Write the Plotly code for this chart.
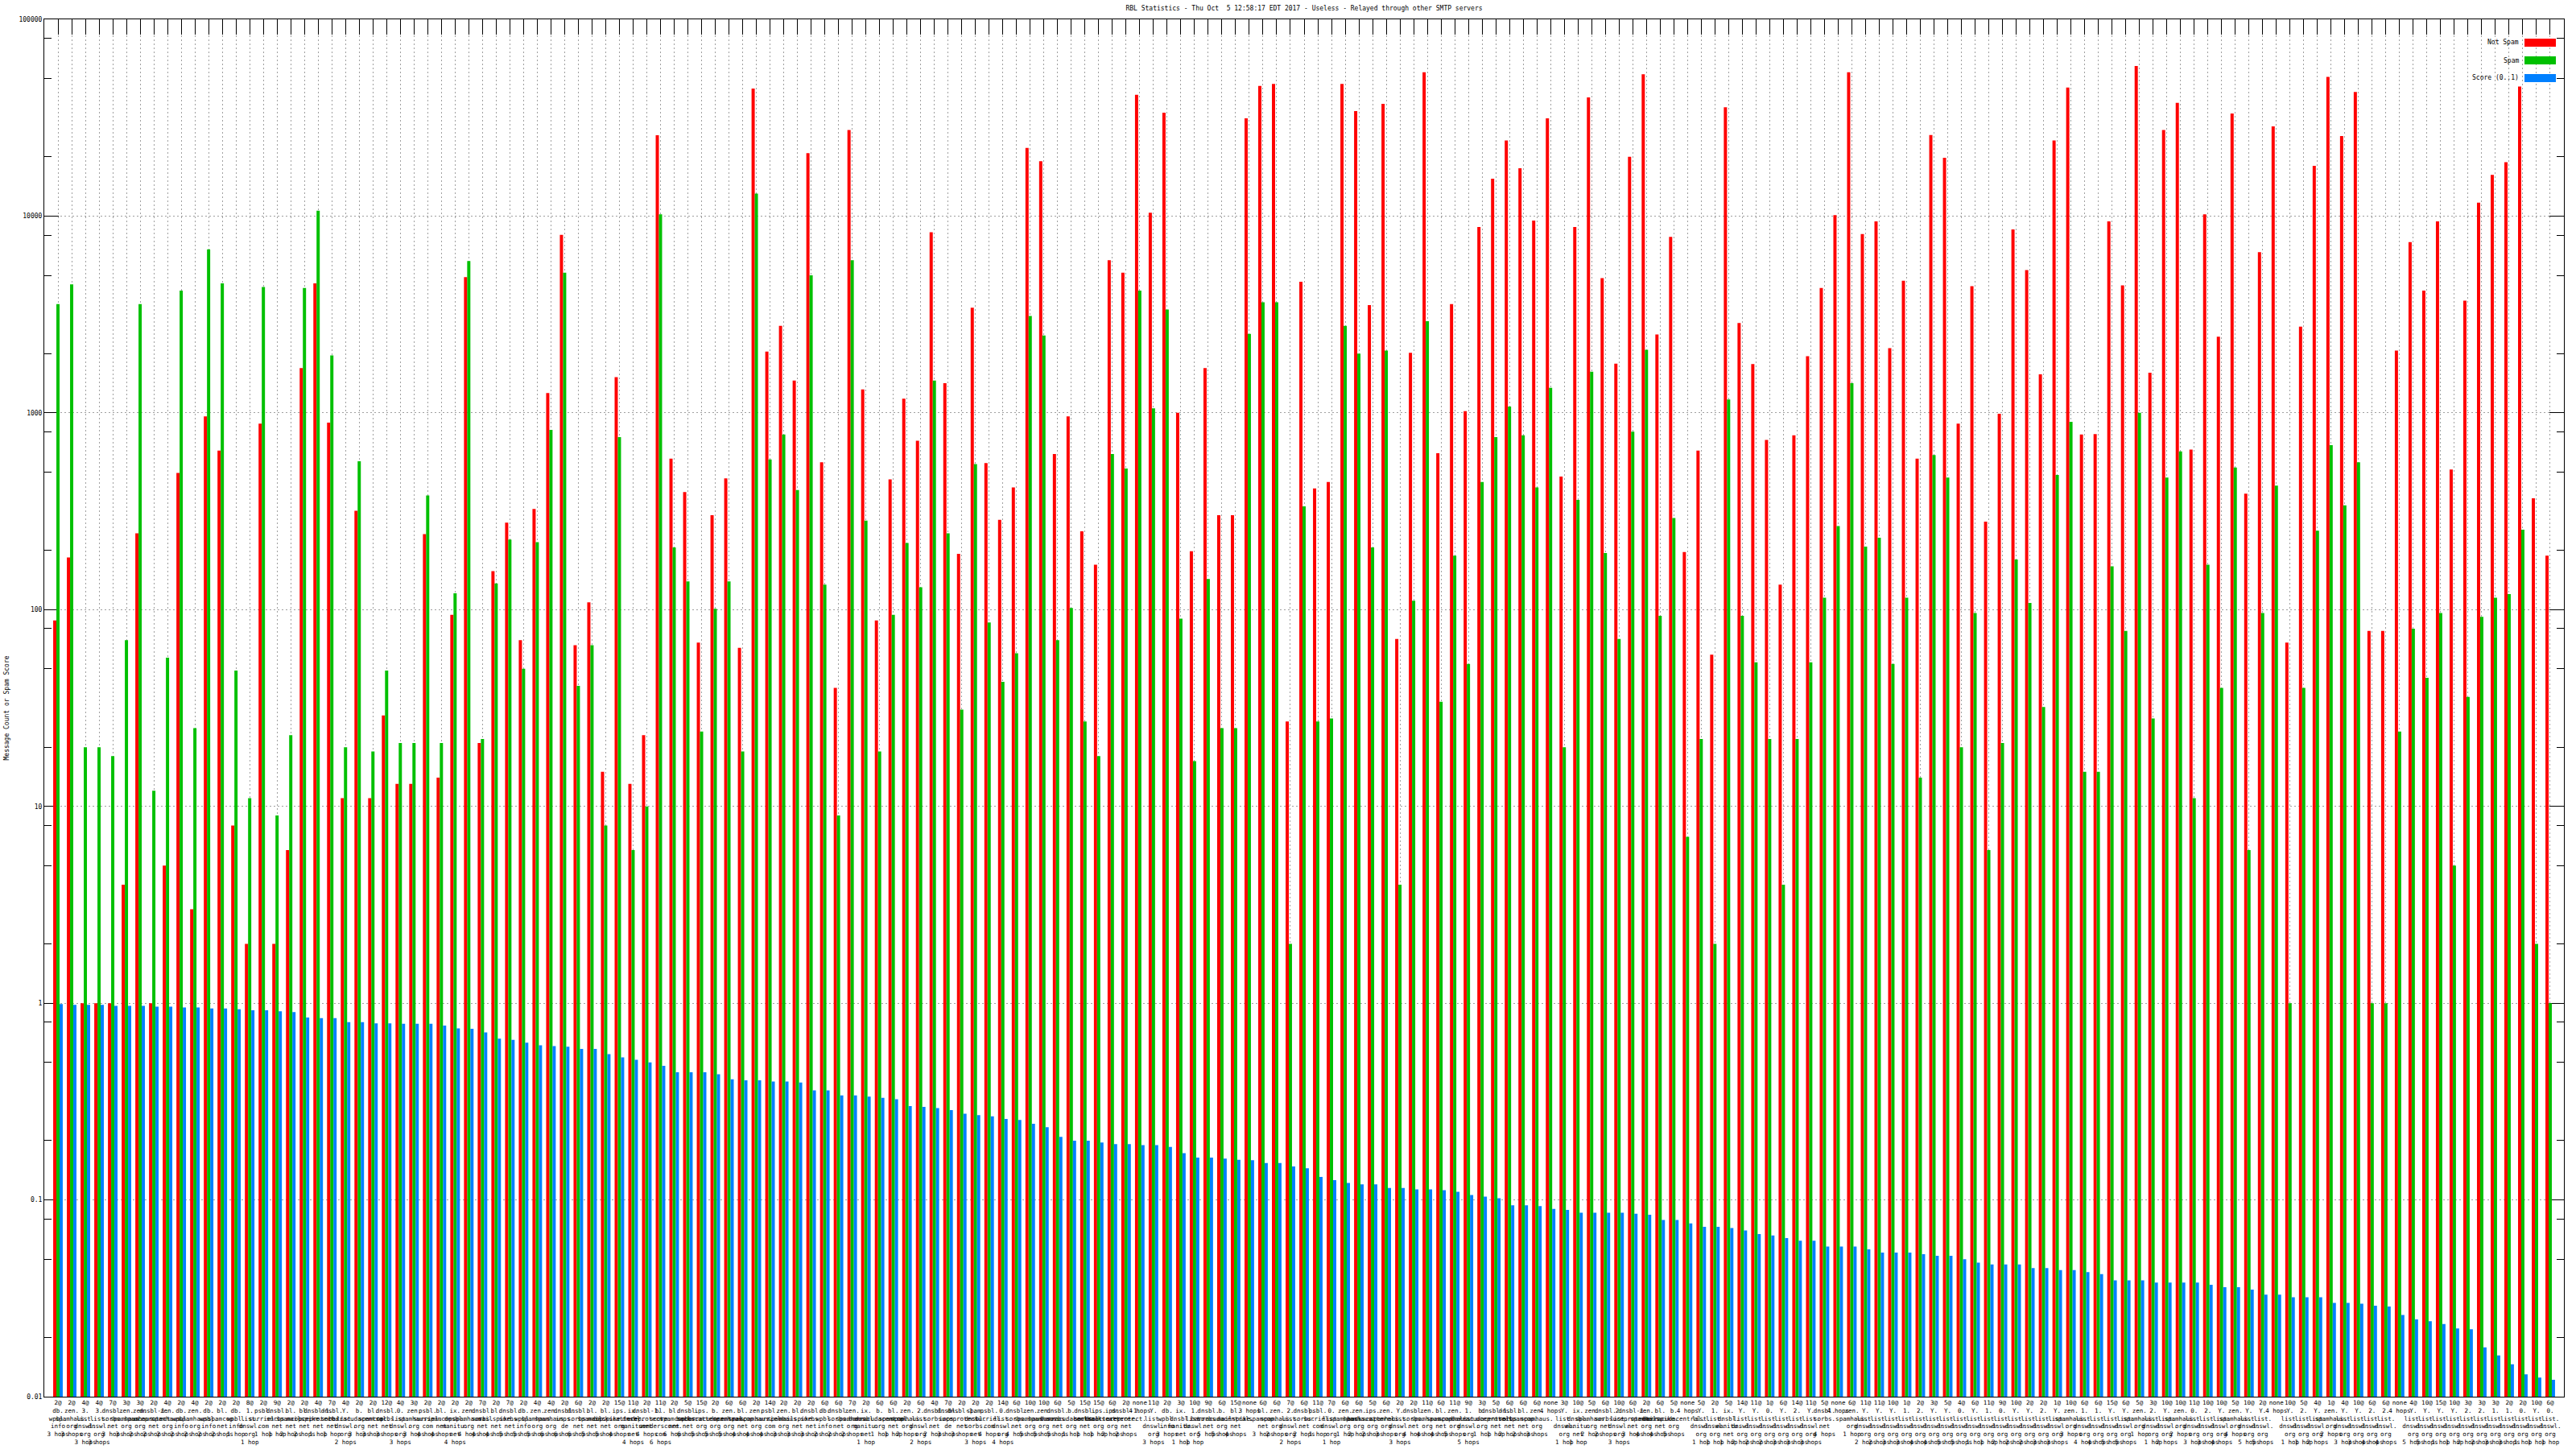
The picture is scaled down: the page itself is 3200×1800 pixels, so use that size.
import plotly.graph_objects as go

# ---------------- data ----------------
prefixes = [
    "2@", "2@", "4@", "4@", "7@", "3@", "3@", "2@", "4@", "2@",
    "4@", "2@", "2@", "2@", "8@", "2@", "9@", "2@", "2@", "4@",
    "7@", "4@", "2@", "2@", "12@", "4@", "3@", "2@", "2@", "2@",
    "2@", "7@", "2@", "7@", "2@", "4@", "4@",
    "2@", "6@", "2@", "2@", "15@", "11@", "2@", "11@", "2@", "5@",
    "15@", "2@", "6@", "6@", "2@", "14@", "2@", "2@", "2@", "6@",
    "6@", "7@", "2@", "6@", "6@", "2@", "6@", "4@", "7@", "2@",
    "2@", "2@", "14@", "6@", "10@", "10@", "6@",
    "5@", "15@", "15@", "6@", "2@", "none", "11@", "2@", "3@", "10@",
    "9@", "6@", "15@", "none", "6@", "6@", "7@", "6@", "11@", "7@",
    "6@", "6@", "5@", "6@", "2@", "2@", "11@", "6@", "11@", "9@",
    "3@", "5@", "6@", "6@", "6@", "none", "3@",
    "10@", "5@", "6@", "10@", "6@", "2@", "6@", "5@", "none", "5@",
    "2@", "5@", "14@", "11@", "1@", "6@", "14@", "11@", "5@", "none",
    "6@", "11@", "11@", "10@", "1@", "2@", "3@", "5@", "4@", "6@",
    "11@", "9@", "10@", "2@", "2@", "1@", "10@",
    "6@", "6@", "15@", "6@", "5@", "3@", "10@", "10@", "11@", "10@",
    "10@", "5@", "10@", "2@", "none", "10@", "5@", "4@", "1@", "4@",
    "10@", "6@", "6@", "none", "4@", "10@", "15@", "10@", "3@", "3@",
    "3@", "2@", "2@", "10@", "6@",
]

zone_names = {
    "Z": "zen.spamhaus.org", "W": "db.wpbl.info", "S": "dnsbl.sorbs.net",
    "C": "bl.spamcop.net", "P": "psbl.surriel.com", "M": "bl.mailspike.net",
    "U": "dnsbl-1.uceprotect.net", "B": "b.barracudacentral.org",
    "X": "ix.dnsbl.manitu.net", "K": "ips.backscatterer.org",
    "N": "spam.dnsbl.sorbs.net", "I": "dnsbl.inps.de",
    "R": "bl.score.senderscore.com", "L0": "0.list.dnswl.org",
    "L1": "1.list.dnswl.org", "L2": "2.list.dnswl.org",
    "L3": "3.list.dnswl.org", "LY": "Y.list.dnswl.org", "-": "",
}

zone_codes = [
    "W", "Z", "L3", "L3", "S", "Z", "Z", "U", "Z", "W",
    "Z", "W", "C", "W", "L1", "P", "S", "C", "M", "U",
    "S", "LY", "B", "C", "S", "L0", "Z", "P", "C", "X",
    "Z", "S", "M", "S", "W", "Z", "Z", "I", "S", "C",
    "M", "K", "X", "U", "R", "C", "S", "K", "B", "Z",
    "C", "Z", "P", "Z", "M", "S", "W", "S", "Z", "X",
    "B", "C", "Z", "L2", "S", "I", "U", "N", "P", "L0",
    "S", "Z", "Z", "S", "B", "S", "K", "K", "U", "-",
    "LY", "W", "X", "L1", "S", "B", "M", "-", "C", "Z",
    "L2", "S", "P", "L0", "Z", "Z", "K", "Z", "LY", "S",
    "Z", "C", "Z", "L1", "B", "U", "S", "C", "Z", "-",
    "LY", "X", "Z", "S", "L2", "U", "Z", "M", "B", "-",
    "LY", "L1", "X", "LY", "LY", "L0", "LY", "L2", "LY", "S",
    "-", "Z", "LY", "LY", "LY", "L1", "L2", "LY", "LY", "L0",
    "LY", "L1", "L0", "LY", "LY", "L2", "LY", "Z", "L1", "L1",
    "LY", "LY", "Z", "L2", "LY", "Z", "L0", "L2", "LY", "Z",
    "LY", "LY", "-", "LY", "L2", "LY", "Z", "LY", "LY", "L2",
    "L2", "-", "LY", "LY", "LY", "LY", "L2", "L2", "L1", "L1",
    "L0", "LY", "L0",
]

hops = [
    3, 3, 3, 3, 3, 3, 2, 2, 2, 2,
    2, 2, 2, 1, 1, 1, 1, 2, 2, 1,
    1, 2, 3, 3, 3, 3, 3, 4, 4, 4,
    4, 4, 4, 5, 5, 5, 6, 6, 6, 5,
    5, 4, 4, 4, 6, 6, 6, 5, 5, 5,
    4, 4, 4, 3, 3, 3, 2, 2, 2, 1,
    1, 1, 2, 2, 2, 3, 3, 3, 4, 4,
    4, 5, 5, 5, 1, 1, 1, 2, 2, 4,
    3, 3, 1, 1, 5, 5, 4, 3, 3, 2,
    2, 2, 1, 1, 1, 2, 2, 3, 3, 4,
    4, 4, 5, 5, 1, 1, 2, 2, 3, 4,
    1, 1, 2, 2, 3, 3, 4, 4, 5, 4,
    1, 1, 1, 2, 2, 2, 3, 3, 3, 4,
    4, 1, 2, 2, 3, 3, 4, 4, 5, 5,
    1, 1, 2, 2, 2, 3, 3, 3, 4, 4,
    5, 5, 1, 1, 2, 2, 3, 3, 4, 4,
    5, 5, 4, 1, 1, 2, 2, 3, 3, 4,
    4, 4, 5, 5, 1, 1, 2, 2, 3, 3,
    1, 1, 1,
]

not_spam = [
    88, 184, 1, 1, 1, 4, 244, 1, 5, 495,
    3, 959, 643, 8, 2, 881, 2, 6, 1690, 4550,
    891, 11, 318, 11, 29, 13, 13, 242, 14, 94,
    4890, 21, 157, 277, 70, 325, 1260,
    8020, 66, 109, 15, 1520, 13, 23, 25760, 585, 396,
    68, 302, 464, 64, 44500, 2050, 2770, 1460, 20900, 561,
    40, 27400, 1315, 88, 459, 1180, 722, 8280, 1415, 192,
    3420, 555, 286, 418, 22200, 19000, 617,
    959, 250, 169, 5970, 5160, 41300, 10400, 33500, 1000, 198,
    1690, 302, 302, 31400, 45900, 46900, 27, 4640, 413, 445,
    46900, 34200, 3530, 37200, 71, 2020, 53800, 623, 3570, 1020,
    8810, 15500, 24200, 17500, 9490, 31400, 474,
    8810, 40100, 4840, 1780, 20000, 52600, 2500, 7850, 196, 643,
    59, 35700, 2860, 1770, 729, 134, 769, 1940, 4310, 10100,
    53800, 8110, 9390, 2130, 4690, 585, 25800, 19800, 881, 4400,
    280, 989, 8550, 5320, 1570, 24200, 45000,
    777, 780, 9390, 4450, 57900, 1600, 27400, 37600, 650, 10200,
    2440, 33200, 388, 6560, 28600, 68, 2740, 18000, 51000, 25500,
    42700, 78, 78, 2070, 7380, 4180, 9390, 515, 3720, 11700,
    16200, 18800, 45500, 368, 188,
]

spam = [
    3570, 4500, 20, 20, 18, 70, 3570, 12, 57, 4180,
    25, 6780, 4550, 49, 11, 4360, 9, 23, 4310, 10650,
    1960, 20, 567, 19, 49, 21, 21, 380, 21, 121,
    5910, 22, 136, 227, 50, 220, 819,
    5160, 41, 66, 8, 753, 6, 10, 10200, 207, 139,
    24, 101, 139, 19, 13000, 579, 777, 405, 5000, 134,
    9, 5970, 283, 19, 94, 218, 130, 1460, 244, 31,
    549, 86, 43, 60, 3110, 2470, 70,
    102, 27, 18, 617, 521, 4180, 1055, 3350, 90, 17,
    143, 25, 25, 2520, 3650, 3650, 2, 335, 27, 28,
    2770, 2000, 207, 2070, 4, 111, 2920, 34, 188, 53,
    445, 753, 1076, 769, 418, 1340, 20,
    361, 1620, 194, 71, 802, 2090, 93, 292, 7, 22,
    2, 1170, 93, 54, 22, 4, 22, 54, 115, 266,
    1415, 209, 232, 53, 115, 14, 610, 469, 20, 96,
    6, 21, 180, 108, 32, 484, 900,
    15, 15, 166, 78, 1000, 28, 469, 637, 11, 169,
    40, 527, 6, 96, 427, 1, 40, 252, 685, 339,
    561, 1, 1, 24, 80, 45, 96, 5, 36, 92,
    115, 120, 255, 2, 1,
]

score = [
    0.99, 0.98, 0.98, 0.98, 0.97, 0.97, 0.97, 0.96, 0.96, 0.95,
    0.95, 0.94, 0.94, 0.93, 0.92, 0.92, 0.91, 0.90, 0.845, 0.84,
    0.84, 0.80, 0.80, 0.79, 0.79, 0.785, 0.785, 0.785, 0.77, 0.745,
    0.74, 0.71, 0.66, 0.65, 0.63, 0.61, 0.605,
    0.60, 0.585, 0.585, 0.55, 0.53, 0.515, 0.50, 0.48, 0.445, 0.445,
    0.445, 0.435, 0.41, 0.405, 0.405, 0.40, 0.40, 0.395, 0.36, 0.36,
    0.34, 0.34, 0.335, 0.33, 0.325, 0.30, 0.297, 0.293, 0.286, 0.274,
    0.27, 0.266, 0.258, 0.255, 0.244, 0.234, 0.209,
    0.20, 0.20, 0.196, 0.192, 0.192, 0.19, 0.19, 0.186, 0.173, 0.164,
    0.164, 0.162, 0.16, 0.159, 0.154, 0.154, 0.148, 0.145, 0.131, 0.126,
    0.122, 0.12, 0.12, 0.115, 0.115, 0.113, 0.113, 0.112, 0.11, 0.106,
    0.104, 0.102, 0.094, 0.094, 0.093, 0.09, 0.089,
    0.086, 0.086, 0.086, 0.086, 0.085, 0.084, 0.079, 0.079, 0.076, 0.073,
    0.073, 0.072, 0.07, 0.067, 0.066, 0.064, 0.062, 0.062, 0.058, 0.058,
    0.058, 0.056, 0.054, 0.054, 0.054, 0.053, 0.052, 0.052, 0.05, 0.048,
    0.047, 0.047, 0.047, 0.045, 0.045, 0.044, 0.044,
    0.043, 0.042, 0.039, 0.039, 0.039, 0.038, 0.038, 0.038, 0.038, 0.037,
    0.036, 0.036, 0.035, 0.033, 0.033, 0.032, 0.032, 0.032, 0.030, 0.030,
    0.0297, 0.029, 0.0287, 0.026, 0.0247, 0.0242, 0.0234, 0.0222, 0.022, 0.0178,
    0.0162, 0.0146, 0.013, 0.0125, 0.0122,
]

y_tick_vals = [0.01, 0.1, 1, 10, 100, 1000, 10000, 100000]
y_tick_text = ["0.01", "0.1", "1", "10", "100", "1000", "10000", "100000"]
y_minor_vals = [m * 10.0 ** k for k in range(-2, 5) for m in (2, 5, 8)]

title_text = "RBL Statistics - Thu Oct  5 12:58:17 EDT 2017 - Useless - Relayed through other SMTP servers"
series_names = ["Not Spam", "Spam", "Score (0..1)"]
series_colors = ["#FF0000", "#00C000", "#0080FF"]

n = len(not_spam)
assert len(spam) == n and len(score) == n and len(prefixes) == n
assert len(zone_codes) == n and len(hops) == n


def make_label(p, code, h):
    hop_txt = f"{h} hop" if h == 1 else f"{h} hops"
    zone = zone_names[code]
    if p == "none" or not zone:
        return "none<br>" + hop_txt
    parts = zone.split(".")
    lines = [s + "." for s in parts[:-1]] + [parts[-1]]
    return "<br>".join([p] + lines + [hop_txt])


labels = [make_label(p, z, h) for p, z, h in zip(prefixes, zone_codes, hops)]
xs = list(range(n))

# ---------------- figure ----------------
W, H = 3200, 1800
ML, MR, MT, MB = 55, 15, 24, 65
PW, PH = W - ML - MR, H - MT - MB
FONT = "DejaVu Sans Mono"


def px_x(px):
    return (px - ML) / PW


def px_y(py):
    return (H - MB - py) / PH


fig = go.Figure()
for name, vals, col in zip(series_names, [not_spam, spam, score], series_colors):
    fig.add_trace(go.Bar(x=xs, y=vals, name=name, marker=dict(color=col, line=dict(width=0)),
                         showlegend=False))

fig.update_layout(
    width=W, height=H,
    margin=dict(l=ML, r=MR, t=MT, b=MB, pad=0),
    paper_bgcolor="white", plot_bgcolor="white",
    barmode="group", bargap=0.3, bargroupgap=0.0,
    font=dict(family=FONT, size=8, color="black"),
    title=dict(text=title_text, x=0.5, xref="paper", xanchor="center",
               y=1 - 10 / H, yref="container", yanchor="middle",
               font=dict(family=FONT, size=8, color="black")),
)

fig.update_xaxes(
    range=[-1, n], tickmode="array", tickvals=xs, ticktext=labels, tickangle=0,
    tickfont=dict(family=FONT, size=7.5, color="black"),
    ticks="inside", ticklen=19, tickwidth=1, tickcolor="black",
    showline=True, linecolor="black", linewidth=1, mirror="ticks",
    showgrid=True, gridcolor="#A0A0A0", gridwidth=1, griddash="2px,3px",
    zeroline=False, layer="below traces", automargin=False,
)

fig.update_yaxes(
    type="log", range=[-2, 5], tickmode="array", tickvals=y_tick_vals, ticktext=y_tick_text,
    tickfont=dict(family=FONT, size=8, color="black"),
    ticks="inside", ticklen=18, tickwidth=1, tickcolor="black",
    showline=True, linecolor="black", linewidth=1, mirror="allticks",
    showgrid=True, gridcolor="#A0A0A0", gridwidth=1, griddash="2px,3px",
    minor=dict(tickmode="array", tickvals=y_minor_vals, ticks="inside", ticklen=9,
               tickcolor="black", tickwidth=1, showgrid=False),
    zeroline=False, layer="below traces", automargin=False,
)

# y axis label
fig.add_annotation(text="Message Count or Spam Score", textangle=-90,
                   xref="paper", yref="paper", x=px_x(8), y=px_y((MT + H - MB) / 2),
                   xanchor="center", yanchor="middle", showarrow=False,
                   font=dict(family=FONT, size=8, color="black"))

# legend (text to the left of a wide colour key, as in the reference)
legend_rows = [53, 75, 97]
for name, col, py in zip(series_names, series_colors, legend_rows):
    fig.add_annotation(text=name, xref="paper", yref="paper", x=px_x(3131), y=px_y(py),
                       xanchor="right", yanchor="middle", showarrow=False,
                       font=dict(family=FONT, size=8, color="black"))
    fig.add_shape(type="rect", xref="paper", yref="paper",
                  x0=px_x(3136), x1=px_x(3175), y0=px_y(py + 5), y1=px_y(py - 5),
                  fillcolor=col, line=dict(width=0), layer="above")

fig.write_html("out.html", config={"displayModeBar": False},
               post_script="document.body.style.margin='0';document.body.style.overflow='hidden';")
